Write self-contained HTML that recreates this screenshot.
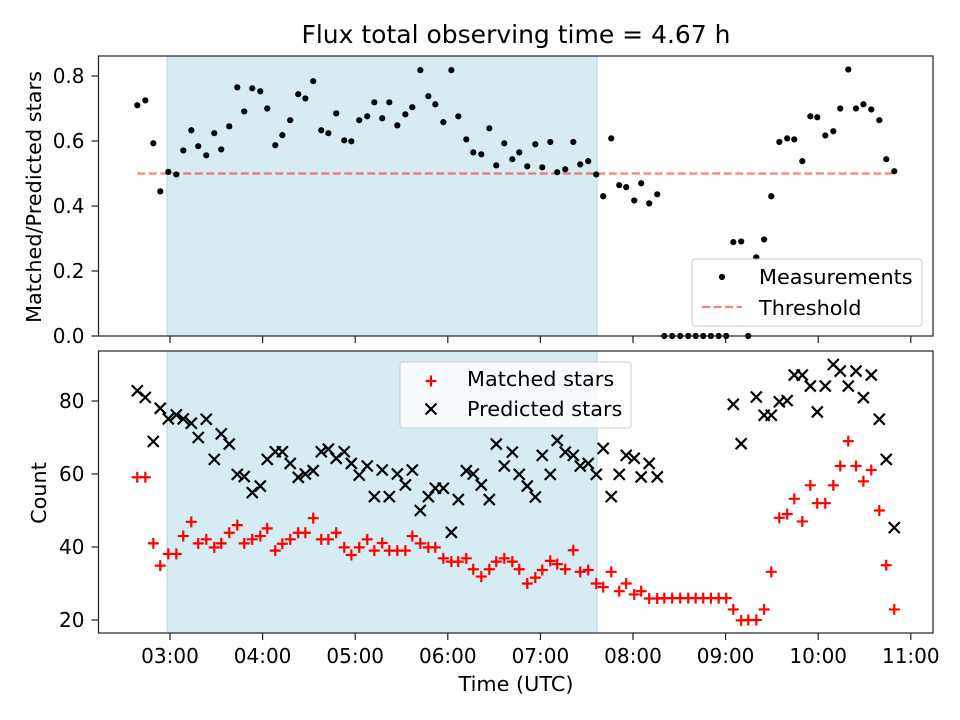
<!DOCTYPE html>
<html><head><meta charset="utf-8">
<style>
html,body{margin:0;padding:0;background:#fff;}
svg{display:block;font-family:"DejaVu Sans","Liberation Sans",sans-serif;}
</style></head>
<body>
<svg id="fig" width="960" height="720" viewBox="0 0 960 720" xmlns="http://www.w3.org/2000/svg"></svg>
<script>
// times in minutes since 00:00 UTC
const times=[158.8,164.0,169.2,173.7,178.9,184.1,188.6,193.8,198.3,203.5,208.7,213.2,218.4,223.6,228.1,233.3,238.5,243.0,248.2,252.8,257.9,263.1,267.7,272.8,278.0,282.6,287.7,292.9,297.5,302.6,307.8,312.4,317.5,322.1,327.3,332.5,337.0,342.2,347.4,351.9,357.1,362.3,366.8,372.0,376.5,381.7,386.9,391.4,396.6,401.8,406.3,411.5,416.7,421.2,426.4,430.9,436.1,441.3,445.8,451.0,456.2,460.7,465.9,471.1,475.6,480.8,485.3,490.5,495.7,500.3,505.4,510.6,515.8,520.6,525.5,530.5,535.5,540.4,545.0,550.1,554.7,559.9,565.0,569.6,574.8,579.9,584.5,589.7,594.9,599.4,604.6,609.8,614.3,619.5,624.5,629.3,634.4,639.6,644.1,649.3];
const ratio=[.71,.725,.593,.445,.505,.497,.571,.633,.584,.556,.624,.574,.645,.765,.691,.762,.753,.70,.587,.618,.664,.744,.731,.784,.633,.624,.685,.602,.599,.664,.676,.719,.670,.719,.648,.682,.704,.818,.738,.713,.658,.818,.676,.605,.565,.559,.639,.525,.593,.544,.565,.522,.590,.519,.597,.504,.513,.597,.528,.538,.497,.430,.608,.464,.458,.417,.470,.408,.436,0,0,0,0,0,0,0,0,0,.289,.291,0,.242,.297,.430,.597,.608,.605,.538,.676,.673,.617,.630,.70,.820,.70,.713,.697,.664,.544,.507];
const matched=[59.1,59.1,41,34.9,38.1,38.1,43,46.9,41,42.1,39.9,41,43.9,46,41,42.1,43,45.1,39,40.9,42.1,43.9,43.9,47.9,42.1,42.1,43.9,39.9,37.8,39.9,42.1,39,41.1,39,39,39,43,41,39.9,39.9,36.9,36,36,36.9,33.9,31.9,33.9,36,36.9,36,33.9,30,31.6,33.7,36.2,35.3,33.9,39.1,33.2,33.7,30,29,33.2,27.9,30,27,27.9,25.9,25.9,26,26,26,26,26,26,26,26,26,22.9,19.9,20,20,22.9,33.2,48,49,53.2,47,56.9,52,52,56.9,62.2,69,62.2,58,61.1,50,35,22.9];
const predicted=[82.8,81,68.9,78,75.1,76.2,75.1,73.9,70,75,64,71,68.2,59.9,59.3,54.9,56.7,64,66.1,66.1,62.9,59.1,60,60.9,66.1,66.8,64.3,66.1,62.9,59.7,62.2,53.8,61.1,53.8,60,57,61.1,50,53.8,56.1,56.1,44,53,60.9,60,57,53,68.2,62.2,66,59.9,56.7,53.7,65.1,59.9,69.2,66,65.1,62.2,62.9,59.9,67,53.8,59.9,65.1,64.3,59.2,62.9,59.2,null,null,null,null,null,null,null,null,null,79.1,68.3,null,81.1,76.1,76.1,79.8,80.1,87.1,87.1,84.1,77,84.1,90,88.2,84.1,88.2,80.9,87.1,75,64,45.3];
const xTickLabels=["03:00","04:00","05:00","06:00","07:00","08:00","09:00","10:00","11:00"];
const xTickMins=[180,240,300,360,420,480,540,600,660];
const topTicks=[0,0.2,0.4,0.6,0.8];
const botTicks=[20,40,60,80];
const threshold=0.5;
const shadeStart=178.1, shadeEnd=456.7;

const NS="http://www.w3.org/2000/svg";
const svg=document.getElementById('fig');
function el(tag,attrs,parent){const e=document.createElementNS(NS,tag);for(const k in attrs)e.setAttribute(k,attrs[k]);(parent||svg).appendChild(e);return e;}
const L=98.5,R=933;
const FS='20', TF='20.8';
const X=m=>170+(m-180)*(92.6/60);
const topP={t:56,b:336}, botP={t:351,b:633};
const Yt=v=>336-v*325;
const Yb=v=>620-(v-20)*3.65;

const title=el('text',{x:516,y:43,'text-anchor':'middle','font-size':'25'});
title.textContent='Flux total observing time = 4.67 h';



function panel(p,name){
  const g=el('g',{});
  
  
  const sh=el('rect',{x:X(shadeStart),y:p.t,width:X(shadeEnd)-X(shadeStart),height:p.b-p.t,fill:'#add8e6','fill-opacity':0.5,stroke:'#add8e6','stroke-width':1},g);
  
  
  return g;
}
function frame(p,g){
  el('rect',{x:L,y:p.t,width:R-L,height:p.b-p.t,fill:'none',stroke:'#222','stroke-width':1.2},g);
  xTickMins.forEach((m,i)=>{
    const t=el('line',{x1:X(m),x2:X(m),y1:p.b,y2:p.b+7,stroke:'#222','stroke-width':1.2},g);
    
    
  });
}
const gt=panel(topP,'ratio-panel');
const th=el('line',{x1:X(times[0]),x2:X(times[times.length-1]),y1:Yt(threshold),y2:Yt(threshold),stroke:'#ff0000','stroke-opacity':0.5,'stroke-width':2.2,'stroke-dasharray':'8,3.5'},gt);


times.forEach((m,i)=>{
  const c=el('circle',{cx:X(m),cy:Yt(ratio[i]),r:3.1,fill:'#000'},gt);
  
  
});
frame(topP,gt);
topTicks.forEach(v=>{
  el('line',{x1:L-7,x2:L,y1:Yt(v),y2:Yt(v),stroke:'#222','stroke-width':1.2},gt);
  const t=el('text',{x:L-14,y:Yt(v)+7,'text-anchor':'end','font-size':FS},gt);
  t.textContent=v.toFixed(1);
  
  
});
const yt1=el('text',{x:41,y:197,'text-anchor':'middle','font-size':TF,transform:'rotate(-90 41 197)'});
yt1.textContent='Matched/Predicted stars';


const lg1=el('g',{});


el('rect',{x:692,y:259,width:230,height:67,rx:3,fill:'#fff','fill-opacity':0.8,stroke:'#ccc'},lg1);
el('circle',{cx:722,cy:277,r:3.1,fill:'#000'},lg1);
let lt=el('text',{x:759,y:284,'font-size':TF},lg1);lt.textContent='Measurements';


el('line',{x1:702,x2:742,y1:307,y2:307,stroke:'#ff0000','stroke-opacity':0.5,'stroke-width':2.2,'stroke-dasharray':'8,3.5'},lg1);
lt=el('text',{x:759,y:315,'font-size':TF},lg1);lt.textContent='Threshold';



const gb=panel(botP,'count-panel');
times.forEach((m,i)=>{
  const x=X(m);
  if(predicted[i]!==null){
    const y=Yb(predicted[i]);
    const p=el('path',{d:`M${x-5.5},${y-5.5}L${x+5.5},${y+5.5}M${x-5.5},${y+5.5}L${x+5.5},${y-5.5}`,stroke:'#000','stroke-width':2.2},gb);
    
    
  }
  const y=Yb(matched[i]);
  const q=el('path',{d:`M${x-5.5},${y}L${x+5.5},${y}M${x},${y-5.5}L${x},${y+5.5}`,stroke:'#ff0000','stroke-width':2.2},gb);
  
  
});
frame(botP,gb);
botTicks.forEach(v=>{
  el('line',{x1:L-7,x2:L,y1:Yb(v),y2:Yb(v),stroke:'#222','stroke-width':1.2},gb);
  const t=el('text',{x:L-14,y:Yb(v)+7,'text-anchor':'end','font-size':FS},gb);
  t.textContent=String(v);
  
  
});
xTickMins.forEach((m,i)=>{
  const t=el('text',{x:X(m),y:663,'text-anchor':'middle','font-size':FS},gb);
  t.textContent=xTickLabels[i];
  
  
});
const xt=el('text',{x:516,y:691,'text-anchor':'middle','font-size':TF});
xt.textContent='Time (UTC)';


const yt2=el('text',{x:46,y:493,'text-anchor':'middle','font-size':TF,transform:'rotate(-90 46 493)'});
yt2.textContent='Count';


const lg2=el('g',{});


el('rect',{x:400,y:362,width:231,height:66,rx:3,fill:'#fff','fill-opacity':0.8,stroke:'#ccc'},lg2);
el('path',{d:'M425.5,381L436.5,381M431,375.5L431,386.5',stroke:'#ff0000','stroke-width':2.2},lg2);
lt=el('text',{x:467,y:386,'font-size':TF},lg2);lt.textContent='Matched stars';


el('path',{d:'M425.5,403.5L436.5,414.5M425.5,414.5L436.5,403.5',stroke:'#000','stroke-width':2.2},lg2);
lt=el('text',{x:467,y:416,'font-size':TF},lg2);lt.textContent='Predicted stars';


</script>
</body></html>
